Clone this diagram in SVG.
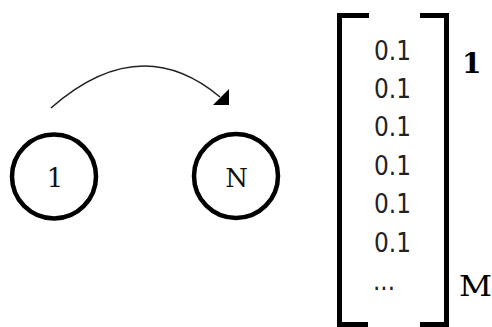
<svg xmlns="http://www.w3.org/2000/svg" width="492" height="327" viewBox="0 0 492 327">
<style>
.node{fill:#fff;stroke:#000;stroke-width:4.5}
.lbl{font-family:"DejaVu Serif",serif;font-size:26px;fill:#111;text-anchor:middle}
.val{font-family:"DejaVu Sans",sans-serif;font-size:27px;fill:#222}
.idx{font-family:"DejaVu Serif",serif;font-size:28px;fill:#000}
.br{fill:none;stroke:#000;stroke-width:5}
</style>
<rect width="492" height="327" fill="#fff"/>
<g id="node-1">
<circle class="node" cx="54" cy="176.5" r="42"/>
<text class="lbl" x="55" y="187">1</text>
</g>
<g id="node-N">
<circle class="node" cx="236" cy="176" r="42"/>
<text class="lbl" x="236.5" y="187">N</text>
</g>
<g id="connectors">
<path d="M51,108 Q140,30 220,97" fill="none" stroke="#222" stroke-width="1.6"/>
<polygon points="229,89 229,105 213,105" fill="#000"/>
</g>
<g id="vector">
<path class="br" d="M369,15.5 H339.5 V324.5 H368"/>
<path class="br" d="M420,15.5 H446.5 V324.5 H420"/>
<text class="val" x="374" y="60" textLength="37" lengthAdjust="spacingAndGlyphs">0.1</text>
<text class="val" x="374" y="98" textLength="37" lengthAdjust="spacingAndGlyphs">0.1</text>
<text class="val" x="374" y="136" textLength="37" lengthAdjust="spacingAndGlyphs">0.1</text>
<text class="val" x="374" y="175" textLength="37" lengthAdjust="spacingAndGlyphs">0.1</text>
<text class="val" x="374" y="213" textLength="37" lengthAdjust="spacingAndGlyphs">0.1</text>
<text class="val" x="374" y="252" textLength="37" lengthAdjust="spacingAndGlyphs">0.1</text>
<text class="val" x="373" y="290" textLength="22" lengthAdjust="spacingAndGlyphs">...</text>
<text class="idx" x="462" y="73" style="font-weight:bold">1</text>
<text class="idx" x="459" y="296" textLength="33" lengthAdjust="spacingAndGlyphs">M</text>
</g>
</svg>
